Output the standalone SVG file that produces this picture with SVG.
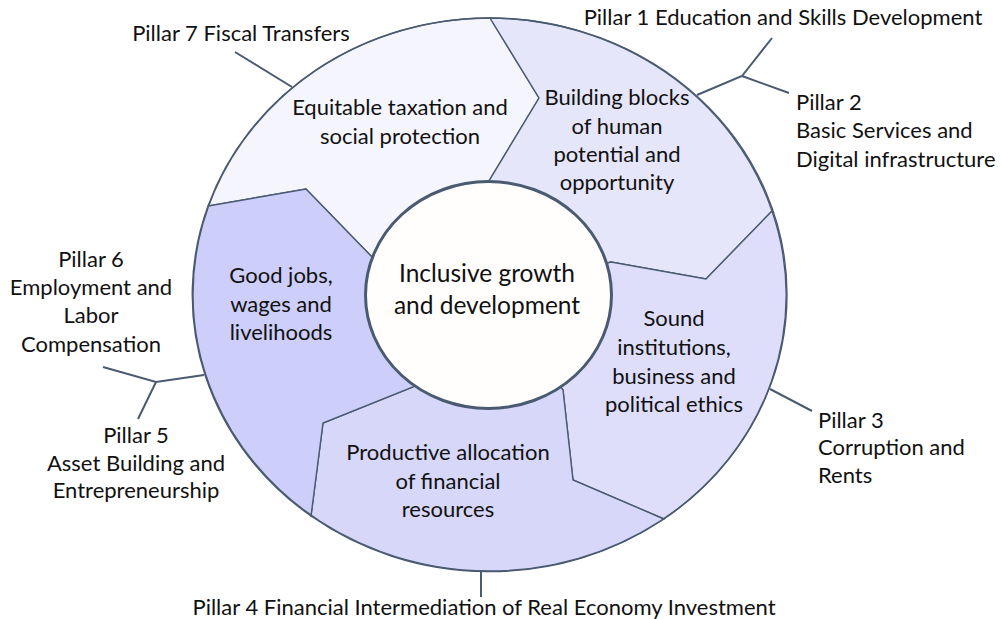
<svg xmlns="http://www.w3.org/2000/svg" width="1002" height="619" viewBox="0 0 1002 619">
<style>
.seg{stroke:#4a5a70;stroke-width:1.4;stroke-linejoin:miter}
.t{font-family:Lato,"Liberation Sans",sans-serif;font-size:22px;fill:#111}
.c{text-anchor:middle}
.ctr{font-family:Lato,"Liberation Sans",sans-serif;font-size:24.5px;fill:#111;text-anchor:middle}
.con{stroke:#4a5a70;stroke-width:2;fill:none}
</style>
<rect width="1002" height="619" fill="#ffffff"/>
<g id="seg-equitable">
<path class="seg" fill="#f5f5fe" d="M208,206 A297,276.5 0 0 1 490,18 L539,98 L489,181 L488,295 L372,257 L306,189 Z"/>
<text class="t c" x="400" y="115">Equitable taxation and</text>
<text class="t c" x="400" y="144">social protection</text>
</g>
<g id="seg-building">
<path class="seg" fill="#e6e6fa" d="M490,18 A297,276.5 0 0 1 772,211 L706,279 L611,262 L488,295 L489,181 L539,98 Z"/>
<text class="t c" x="617" y="105">Building blocks</text>
<text class="t c" x="617" y="134">of human</text>
<text class="t c" x="617" y="162">potential and</text>
<text class="t c" x="617" y="190">opportunity</text>
</g>
<g id="seg-sound">
<path class="seg" fill="#dedefb" d="M772,211 A297,276.5 0 0 1 664,519 L573,480 L563,390 L488,295 L611,262 L706,279 Z"/>
<text class="t c" x="674" y="326">Sound</text>
<text class="t c" x="674" y="355">institutions,</text>
<text class="t c" x="674" y="384">business and</text>
<text class="t c" x="674" y="412">political ethics</text>
</g>
<g id="seg-productive">
<path class="seg" fill="#d7d7f9" d="M664,519 A297,276.5 0 0 1 311,516 L323,423 L413,387 L488,295 L563,390 L573,480 Z"/>
<text class="t c" x="448" y="460">Productive allocation</text>
<text class="t c" x="448" y="489">of financial</text>
<text class="t c" x="448" y="517">resources</text>
</g>
<g id="seg-goodjobs">
<path class="seg" fill="#cdcef9" d="M311,516 A297,276.5 0 0 1 208,206 L306,189 L372,257 L488,295 L413,387 L323,423 Z"/>
<text class="t c" x="281" y="283">Good jobs,</text>
<text class="t c" x="281" y="312">wages and</text>
<text class="t c" x="281" y="340">livelihoods</text>
</g>
<ellipse cx="490" cy="294.5" rx="297" ry="276.5" fill="none" stroke="#4a5a70" stroke-width="1.4"/>
<g id="center">
<ellipse cx="488.5" cy="295" rx="123" ry="113.5" fill="#fffefd" stroke="#4a5a70" stroke-width="3"/>
<text class="ctr" x="487" y="282">Inclusive growth</text>
<text class="ctr" x="487" y="314">and development</text>
</g>
<g id="connectors">
<line class="con" x1="235" y1="52" x2="292" y2="87"/>
<polyline class="con" points="697,95 742,76 772,38"/>
<line class="con" x1="742" y1="76" x2="789" y2="93"/>
<line class="con" x1="770" y1="389" x2="812" y2="411"/>
<polyline class="con" points="204,375 156,382 103,367"/>
<line class="con" x1="156" y1="382" x2="138" y2="419"/>
<line class="con" x1="481" y1="571" x2="481" y2="597"/>
</g>
<g id="pillar7"><text class="t c" x="241" y="41">Pillar 7 Fiscal Transfers</text></g>
<g id="pillar1"><text class="t c" x="783" y="25">Pillar 1 Education and Skills Development</text></g>
<g id="pillar2">
<text class="t" x="796" y="110">Pillar 2</text>
<text class="t" x="796" y="138">Basic Services and</text>
<text class="t" x="796" y="167">Digital infrastructure</text>
</g>
<g id="pillar3">
<text class="t" x="818" y="428">Pillar 3</text>
<text class="t" x="818" y="455">Corruption and</text>
<text class="t" x="818" y="483">Rents</text>
</g>
<g id="pillar4"><text class="t c" x="484" y="615">Pillar 4 Financial Intermediation of Real Economy Investment</text></g>
<g id="pillar6">
<text class="t c" x="91" y="267">Pillar 6</text>
<text class="t c" x="91" y="295">Employment and</text>
<text class="t c" x="91" y="323">Labor</text>
<text class="t c" x="91" y="352">Compensation</text>
</g>
<g id="pillar5">
<text class="t c" x="136" y="443">Pillar 5</text>
<text class="t c" x="136" y="471">Asset Building and</text>
<text class="t c" x="136" y="498">Entrepreneurship</text>
</g>
</svg>
